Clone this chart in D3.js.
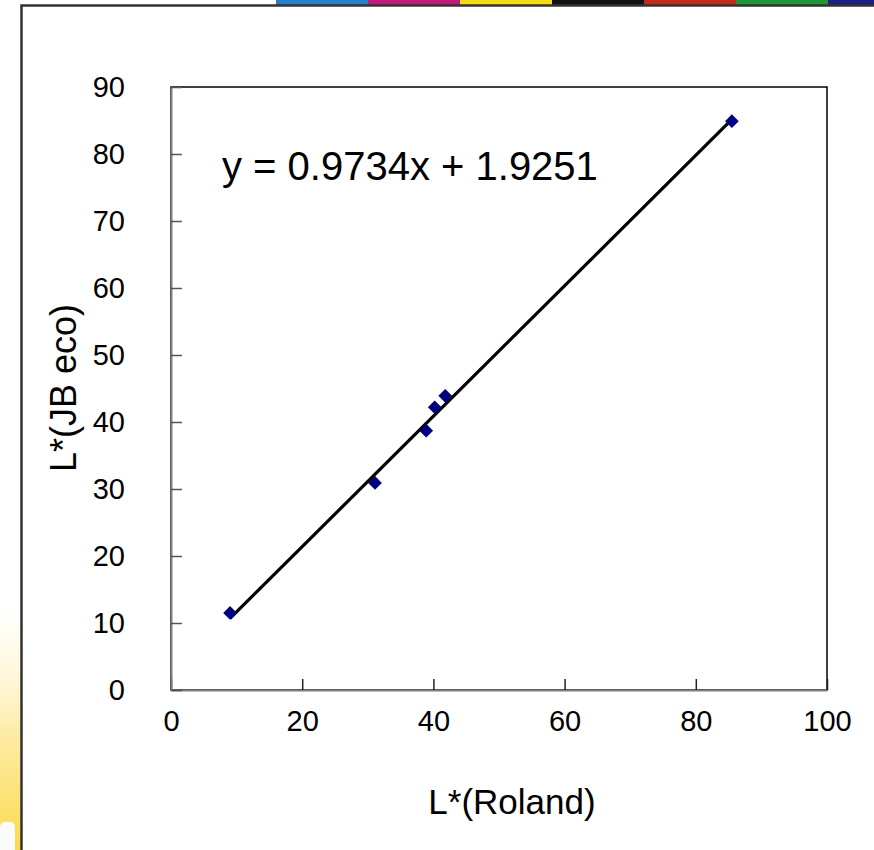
<!DOCTYPE html>
<html><head><meta charset="utf-8">
<script src="https://cdn.jsdelivr.net/npm/d3@7"></script>
<style>body{margin:0;background:#fff}svg{display:block}</style>
</head><body>
<script>
const xValues = [9.0, 31.1, 38.9, 40.2, 41.8, 85.5];
const yValues = [11.5, 30.9, 38.7, 42.2, 43.9, 84.9];
const xTicks = [0, 20, 40, 60, 80, 100];
const yTicks = [0, 10, 20, 30, 40, 50, 60, 70, 80, 90];
const slope = [0.9734];
const intercept = [1.9251];
const equationText = "y = 0.9734x + 1.9251";
const xTitle = "L*(Roland)";
const yTitle = "L*(JB eco)";
const stripColors = ["#2a80c6", "#c0197a", "#f2dc14", "#111111", "#c42a1c", "#23963a", "#1c1f7e"];

const W = 874, H = 850;
const svg = d3.select("body").append("svg").attr("width", W).attr("height", H);
const defs = svg.append("defs");
const g1 = defs.append("linearGradient").attr("id","yel").attr("x1",0).attr("y1",0).attr("x2",0).attr("y2",1);
g1.append("stop").attr("offset","0%").attr("stop-color","#fff6d0").attr("stop-opacity",0);
g1.append("stop").attr("offset","55%").attr("stop-color","#fde68a").attr("stop-opacity",0.8);
g1.append("stop").attr("offset","100%").attr("stop-color","#fcd94a").attr("stop-opacity",1);

// top strip
const stripX = d3.scaleBand().domain(d3.range(stripColors.length)).range([276, 920]);
svg.selectAll("rect.strip").data(stripColors).join("rect").attr("class","strip")
  .attr("x",(d,i)=>stripX(i)).attr("y",0).attr("width",stripX.bandwidth()).attr("height",5).attr("fill",d=>d);

// left decoration
svg.append("rect").attr("x",0).attr("y",600).attr("width",21).attr("height",250).attr("fill","url(#yel)");
svg.append("rect").attr("x",0).attr("y",822).attr("width",15).attr("height",40).attr("rx",5).attr("fill","#fbfbfb");

// frame
svg.append("path").attr("d","M21.5,851 L21.5,5.5 L875,5.5").attr("fill","none").attr("stroke","#333").attr("stroke-width",2.5);

const x = d3.scaleLinear().domain([0,100]).range([171, 827]);
const y = d3.scaleLinear().domain([0,90]).range([690, 87]);

// plot border
svg.append("rect").attr("x",171).attr("y",87).attr("width",656).attr("height",603)
  .attr("fill","none").attr("stroke","#000").attr("stroke-width",1.5);

const font = "Liberation Sans, Arial, sans-serif";
const xAxis = svg.append("g").attr("transform","translate(0,690)")
  .call(d3.axisBottom(x).tickValues(xTicks).tickSize(-11).tickPadding(20).tickSizeOuter(0));
const yAxis = svg.append("g").attr("transform","translate(171,0)")
  .call(d3.axisLeft(y).tickValues(yTicks).tickSize(-11).tickPadding(46).tickSizeOuter(0));
[xAxis,yAxis].forEach(a=>{
  a.attr("font-size",null).attr("font-family",null);
  a.select(".domain").attr("stroke","#808080").attr("stroke-width",2);
  a.selectAll(".tick line").attr("stroke","#555").attr("stroke-width",1.5);
  a.selectAll("text").attr("font-family",font).attr("font-size",29).attr("fill","#000");
});
xAxis.selectAll(".tick line").attr("stroke","#222");

// trendline
const xmin = d3.min(xValues), xmax = d3.max(xValues);
svg.append("line").attr("x1",x(xmin)).attr("y1",y(slope[0]*xmin+intercept[0]))
  .attr("x2",x(xmax)).attr("y2",y(slope[0]*xmax+intercept[0]))
  .attr("stroke","#000").attr("stroke-width",3.2);

// points
const pts = xValues.map((v,i)=>[v,yValues[i]]);
svg.selectAll("path.pt").data(pts).join("path").attr("class","pt")
  .attr("d", d3.symbol().type(d3.symbolDiamond2).size(120))
  .attr("transform",d=>`translate(${x(d[0])},${y(d[1])})`)
  .attr("fill","#000080");

// equation
svg.append("text").attr("x",222).attr("y",180).attr("font-family",font).attr("font-size",40).text(equationText);

// titles
svg.append("text").attr("x",512).attr("y",814).attr("text-anchor","middle").attr("font-family",font).attr("font-size",35).text(xTitle);
svg.append("text").attr("transform","translate(76,388) rotate(-90)").attr("text-anchor","middle").attr("font-family",font).attr("font-size",36).text(yTitle);
</script>
</body></html>
